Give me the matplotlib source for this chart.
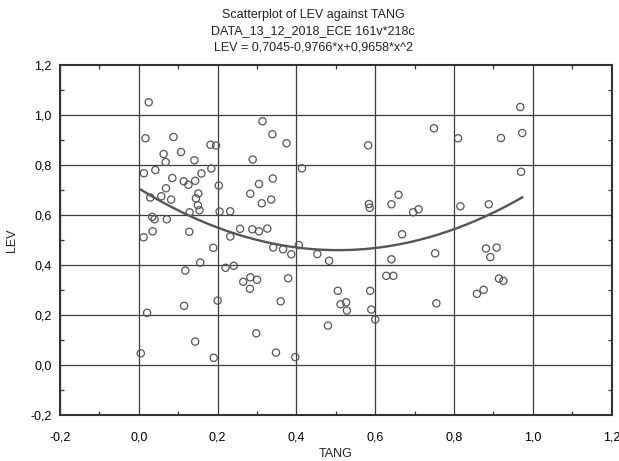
import matplotlib
matplotlib.use("Agg")
import matplotlib.pyplot as plt
import numpy as np
from matplotlib.ticker import MultipleLocator, FuncFormatter

plt.rcParams['font.family'] = ['Liberation Sans', 'DejaVu Sans']

tang = [0.017, 0.088, 0.063, 0.068, 0.107, 0.141, 0.182, 0.196, 0.314, 0.339,
        0.289, 0.013, 0.042, 0.085, 0.114, 0.126, 0.143, 0.159, 0.184, 0.203,
        0.069, 0.029, 0.057, 0.082, 0.151, 0.145, 0.150, 0.154, 0.129, 0.205,
        0.232, 0.283, 0.305, 0.340, 0.312, 0.336, 0.034, 0.040, 0.071, 0.012,
        0.035, 0.128, 0.232, 0.257, 0.288, 0.305, 0.326, 0.189, 0.341, 0.156,
        0.118, 0.220, 0.241, 0.283, 0.265, 0.300, 0.282, 0.115, 0.021, 0.200,
        0.360, 0.143, 0.298, 0.005, 0.190, 0.348, 0.375, 0.582, 0.749, 0.414,
        0.584, 0.586, 0.641, 0.659, 0.696, 0.710, 0.668, 0.366, 0.387, 0.406,
        0.453, 0.483, 0.641, 0.752, 0.379, 0.628, 0.646, 0.505, 0.587, 0.512,
        0.526, 0.528, 0.590, 0.755, 0.600, 0.480, 0.397, 0.810, 0.919, 0.973,
        0.970, 0.816, 0.888, 0.881, 0.908, 0.892, 0.914, 0.925, 0.858, 0.875,
        0.025, 0.968]
lev = [0.905, 0.910, 0.842, 0.810, 0.850, 0.817, 0.879, 0.876, 0.973, 0.921,
       0.820, 0.765, 0.778, 0.746, 0.733, 0.719, 0.735, 0.764, 0.784, 0.716,
       0.705, 0.668, 0.673, 0.660, 0.684, 0.665, 0.637, 0.617, 0.609, 0.612,
       0.613, 0.683, 0.722, 0.744, 0.645, 0.660, 0.591, 0.581, 0.581, 0.509,
       0.533, 0.531, 0.512, 0.543, 0.541, 0.533, 0.544, 0.467, 0.468, 0.408,
       0.376, 0.387, 0.395, 0.349, 0.331, 0.339, 0.303, 0.235, 0.207, 0.256,
       0.253, 0.092, 0.125, 0.045, 0.027, 0.048, 0.885, 0.877, 0.945, 0.785,
       0.642, 0.627, 0.641, 0.679, 0.609, 0.621, 0.521, 0.461, 0.441, 0.478,
       0.442, 0.415, 0.421, 0.445, 0.345, 0.355, 0.355, 0.295, 0.295, 0.241,
       0.249, 0.216, 0.220, 0.245, 0.180, 0.156, 0.030, 0.905, 0.906, 0.926,
       0.771, 0.633, 0.641, 0.464, 0.468, 0.430, 0.344, 0.335, 0.283, 0.299,
       1.049, 1.030]

# fitted quadratic: LEV = b0 + b1*x + b2*x^2
coef = [0.7045, -0.9766, 0.9658]

title_lines = ["Scatterplot of LEV against TANG",
               "DATA_13_12_2018_ECE 161v*218c",
               "LEV = 0,7045-0,9766*x+0,9658*x^2"]

fig = plt.figure(figsize=(6.19, 4.61), dpi=100)
ax = fig.add_axes([60/619, 1-414.6/461, (611.7-60)/619, (414.6-64.5)/461])

grid_c = '#3c3c3c'
ax.set_xlim(-0.2, 1.2)
ax.set_ylim(-0.2, 1.2)
ax.xaxis.set_major_locator(MultipleLocator(0.2))
ax.yaxis.set_major_locator(MultipleLocator(0.2))
ax.xaxis.set_minor_locator(MultipleLocator(0.1))
ax.yaxis.set_minor_locator(MultipleLocator(0.1))
fmt = FuncFormatter(lambda v, p: f"{v:.1f}".replace('.', ',').replace('-0,0', '0,0'))
ax.xaxis.set_major_formatter(fmt)
ax.yaxis.set_major_formatter(fmt)
ax.grid(True, which='major', color=grid_c, lw=0.9)
ax.set_axisbelow(True)
ax.tick_params(which='both', direction='in', top=True, right=True,
               color='#333333', labelsize=9)
ax.tick_params(which='major', length=0, width=0.9)
ax.tick_params(axis='x', which='major', pad=12)
ax.tick_params(axis='y', which='major', pad=6)
ax.tick_params(which='minor', length=3, width=0.9)
for s in ax.spines.values():
    s.set_color('#333333')
    s.set_linewidth(1.5)

ax.scatter(tang, lev, s=27, facecolors='none', edgecolors='#555555',
           linewidths=0.9, zorder=3)

xs = np.linspace(min(tang), max(tang), 200)
ys = coef[0] + coef[1]*xs + coef[2]*xs**2
ax.plot(xs, ys, color='#555555', lw=1.7, zorder=4)

for i, t in enumerate(title_lines):
    fig.text(313/619, 1-(15 + 16*i)/461, t, ha='center', va='center', fontsize=9,
             color='#222222')

fig.text(336/619, 1-454/461, "TANG", ha='center', va='center', fontsize=9, color='#222222')
fig.text(12/619, 1-240/461, "LEV", ha='center', va='center', rotation=90,
         fontsize=9, color='#222222')

fig.savefig("out.png", dpi=100)
